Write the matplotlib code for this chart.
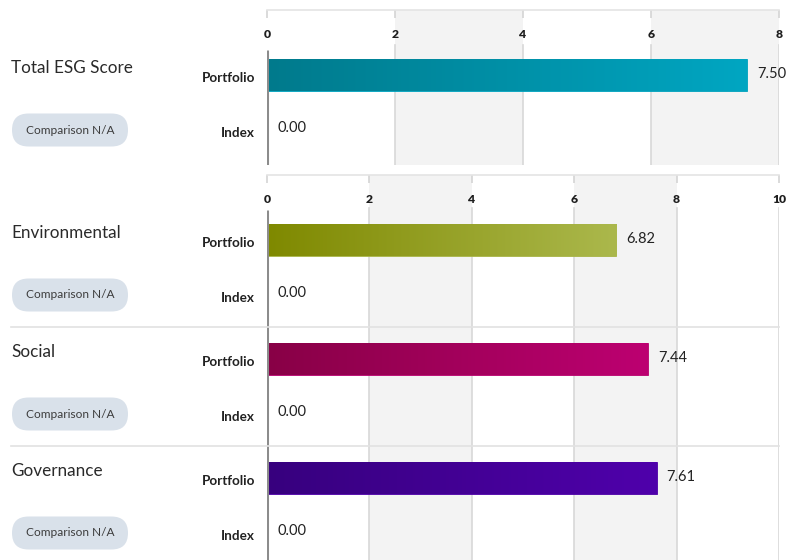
import numpy as np
import matplotlib
matplotlib.use("Agg")
import matplotlib.pyplot as plt
from matplotlib.patches import FancyBboxPatch
from matplotlib.colors import LinearSegmentedColormap
from matplotlib.lines import Line2D
from matplotlib.transforms import IdentityTransform

# ---------------- data ----------------
categories = ["Total ESG Score", "Environmental", "Social", "Governance"]
series = ["Portfolio", "Index"]
portfolio_values = [7.50, 6.82, 7.44, 7.61]
index_values = [0.00, 0.00, 0.00, 0.00]
top_ticks = [0, 2, 4, 6, 8]
bottom_ticks = [0, 2, 4, 6, 8, 10]
badge_text = "Comparison N/A"
gradient_colors = [("#007a8c", "#00a6c2"), ("#7f8900", "#abb84c"),
                   ("#880046", "#bd0071"), ("#37007e", "#4f00ab")]

# ---------------- layout ----------------
W, H = 788, 560
FONT = "Lato"
plt.rcParams["font.family"] = [FONT, "DejaVu Sans"]
fig = plt.figure(figsize=(W / 100, H / 100), dpi=100)

def px_axes(x0, y0, x1, y1):
    return fig.add_axes([x0 / W, 1 - y1 / H, (x1 - x0) / W, (y1 - y0) / H])

GROUP = 119     # px between category groups
P_OFF = 65      # portfolio row offset within panel
I_OFF = 120     # index row offset
BAR_H = 32

ax_top = px_axes(267, 10, 779, 165)
ax_bot = px_axes(267, 175, 779, 560)


def setup(ax, ticks, height, grid_start, zero_start):
    ax.set_xlim(ticks[0], ticks[-1])
    ax.set_ylim(height, 0)
    ax.set_facecolor("white")
    for name, s in ax.spines.items():
        s.set_visible(name == "top")
    ax.spines["top"].set_color("#e4e4e4")
    ax.spines["top"].set_linewidth(1.2)
    for i in range(1, len(ticks) - 1, 2):
        ax.axvspan(ticks[i], ticks[i + 1], color="#f3f3f3", lw=0, zorder=0)
    for t in ticks[1:]:
        ax.plot([t, t], [grid_start, height], color="#d8d8d8", lw=1.2, zorder=1)
    ax.xaxis.tick_top()
    ax.set_xticks(ticks)
    ax.set_xticklabels([str(t) for t in ticks])
    ax.tick_params(axis="x", direction="in", length=6, width=1.2, color="#d4d4d4",
                   pad=-21.5, labelsize=8.7, labelcolor="#1e1e1e")
    for lbl in ax.get_xticklabels():
        lbl.set_fontweight("heavy")
    ax.set_yticks([])
    ax.plot([0, 0], [zero_start, height], color="#8c8c8c", lw=2.2, zorder=5,
            solid_capstyle="butt")


setup(ax_top, top_ticks, 155, 35, 40)
setup(ax_bot, bottom_ticks, 385, 33, 35)

groups = [(ax_top, 0), (ax_bot, 0), (ax_bot, 1), (ax_bot, 2)]

for k, (ax, g) in enumerate(groups):
    yp = P_OFF + g * GROUP
    yi = I_OFF + g * GROUP
    c0, c1 = gradient_colors[k]
    bars = ax.barh([yp, yi], [portfolio_values[k], index_values[k]], height=BAR_H,
                   color=c0, edgecolor="none", zorder=3)
    cmap = LinearSegmentedColormap.from_list("g%d" % k, [c0, c1])
    grad = np.linspace(0, 1, 256).reshape(1, -1)
    r = bars[0]
    x0, w, y0, h = r.get_x(), r.get_width(), r.get_y(), r.get_height()
    im = ax.imshow(grad, extent=(x0, x0 + w, y0 + h, y0), aspect="auto",
                   cmap=cmap, zorder=3.5, interpolation="bilinear")
    im.set_clip_path(r)
    r.set_edgecolor(c1)
    r.set_linewidth(0.6)

    # value labels
    for y, v in [(yp, portfolio_values[k]), (yi, index_values[k])]:
        ax.annotate("%.2f" % v, xy=(v, y), xytext=(10, 1 if y == yp else 2),
                    textcoords="offset pixels", ha="left", va="center",
                    fontsize=10.5, color="#222222", zorder=6)
    # row labels
    for y, s in [(yp, series[0]), (yi, series[1])]:
        ax.annotate(s, xy=(0, y), xycoords=("axes fraction", "data"),
                    xytext=(-12, -3), textcoords="offset pixels", ha="right",
                    va="center", fontsize=9.7, fontweight="bold", color="#222222")
    # category title
    ax.annotate(categories[k], xy=(11, yp), xycoords=("figure pixels", "data"),
                xytext=(0, 7), textcoords="offset pixels", ha="left", va="center",
                fontsize=12.3, color="#2a2a2a", annotation_clip=False)
    # comparison pill
    yd = ax.transData.transform((0, yi))[1]
    pill = FancyBboxPatch((12, yd - 16.5), 116, 33,
                          boxstyle="round,pad=0,rounding_size=16.5",
                          transform=IdentityTransform(), facecolor="#d9e1ea",
                          edgecolor="none")
    fig.add_artist(pill)
    fig.text(70 / W, yd / H, badge_text, ha="center", va="center",
             fontsize=8.6, color="#3c3c3c")

    # separators between groups in bottom panel
    if ax is ax_bot and g > 0:
        ys = ax.transData.transform((0, P_OFF + g * GROUP - 32))[1]
        fig.add_artist(Line2D([11 / W, 779 / W], [ys / H, ys / H],
                              transform=fig.transFigure, color="#e2e2e2", lw=1.2,
                              zorder=10))

for ax, ticks, height in [(ax_top, top_ticks, 155), (ax_bot, bottom_ticks, 385)]:
    ax.set_xlim(ticks[0], ticks[-1])
    ax.set_ylim(height, 0)

fig.savefig("out.png", dpi=100)
